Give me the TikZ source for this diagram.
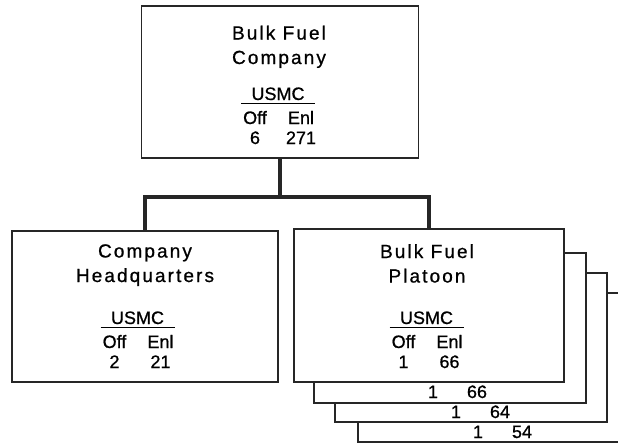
\documentclass[tikz,border=0pt]{standalone}
\usepackage{fontspec}
\setmainfont[FakeBold=0.8]{Liberation Sans}
\newfontfamily\ttlfont[LetterSpace=11,FakeBold=0.8]{Liberation Sans}
\usetikzlibrary{positioning,calc}
\tikzset{
  unitbox/.style={draw=black!85,line width=1.6pt,fill=white,inner sep=0pt},
  ttl/.style={font=\ttlfont\fontsize{19}{24.5}\selectfont,align=center,anchor=base,inner sep=0pt},
  sml/.style={font=\fontsize{18}{20}\selectfont,anchor=base,inner sep=0pt},
  conn/.style={line width=3.6pt,draw=black!85},
  usmcrule/.style={line width=1.1pt}
}

\begin{document}
\begin{tikzpicture}[x=1pt,y=-1pt]
  \useasboundingbox (0,0) rectangle (618,444);
  % Company
  \node[unitbox,minimum width=277pt,minimum height=152pt] (co) at (280,82) {};
  \node[ttl] (co-ttl) at (279,64) {Bulk Fuel\\Company};

  % Platoon stack, back to front
  \node[unitbox,minimum width=272pt,minimum height=149pt] (plt4) at (494,367.5) {};
  \node[unitbox,minimum width=272pt,minimum height=149pt] (plt3) at (471,347.5) {};
  \node[unitbox,minimum width=272pt,minimum height=150pt] (plt2) at (450,328) {};
  \node[unitbox,minimum width=270pt,minimum height=153pt] (plt) at (429,305.5) {};
  \node[ttl] (plt-ttl) at (427,282.5) {Bulk Fuel\\Platoon};

  % Headquarters
  \node[unitbox,minimum width=266pt,minimum height=151pt] (hq) at (145,306.5) {};
  \node[ttl] (hq-ttl) at (145,282) {Company\\Headquarters};

  % Strength blocks
  \foreach \u/\cx/\by/\o/\e in {co/278/100/6/271, hq/137.5/324/2/21, plt/426.5/324/1/66} {
    \node[sml] (\u-usmc) at (\cx,\by) {USMC};
    \draw[usmcrule] ({\cx-37},{\by+3.5}) -- ({\cx+37},{\by+3.5});
    \node[sml] (\u-offh) at ({\cx-23},{\by+24}) {Off};
    \node[sml] (\u-enlh) at ({\cx+23},{\by+24}) {Enl};
    \node[sml] (\u-off) at ({\cx-23},{\by+44}) {\o};
    \node[sml] (\u-enl) at ({\cx+23},{\by+44}) {\e};
  }

  % Other platoons
  \foreach \i/\cx/\by/\e in {2/433/398/66, 3/456/418/64, 4/478/438/54} {
    \node[sml] (plt\i-off) at (\cx,\by) {1};
    \node[sml] (plt\i-enl) at ({\cx+44},\by) {\e};
  }

  % Connectors
  \draw[conn] (co.south) -- ++(0,38) coordinate (jn);
  \draw[conn] (hq.north) |- (jn) -| (plt.north);
\end{tikzpicture}
\end{document}
